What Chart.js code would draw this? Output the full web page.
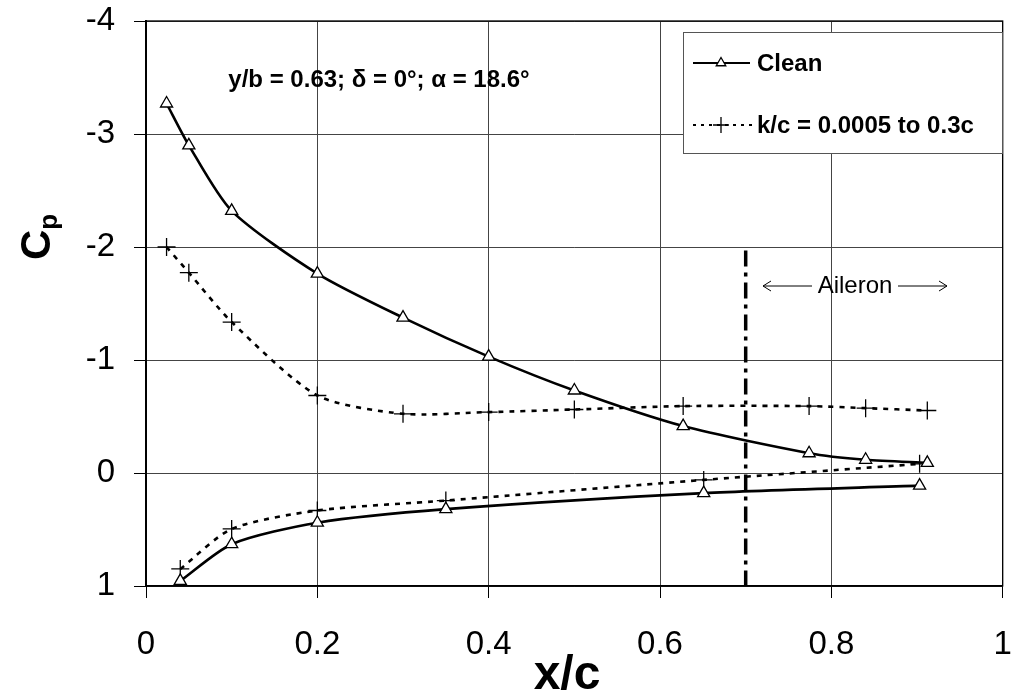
<!DOCTYPE html>
<html>
<head>
<meta charset="utf-8">
<script src="https://cdn.jsdelivr.net/npm/chart.js@4/dist/chart.umd.min.js"></script>
<style>
html,body{margin:0;padding:0;background:#fff;}
#wrap{width:1013px;height:696px;}
</style>
</head>
<body>
<div id="wrap"><canvas id="c" width="1013" height="696"></canvas></div>
<script>
// ---- data ----
const cleanUpperX = [0.024, 0.05, 0.10, 0.20, 0.30, 0.40, 0.50, 0.627, 0.774, 0.84, 0.912];
const cleanUpperCp = [-3.27, -2.90, -2.32, -1.765, -1.375, -1.03, -0.73, -0.415, -0.175, -0.117, -0.09];
const cleanLowerX = [0.04, 0.10, 0.20, 0.35, 0.651, 0.903];
const cleanLowerCp = [0.955, 0.63, 0.44, 0.32, 0.178, 0.112];
const roughUpperX = [0.024, 0.05, 0.10, 0.20, 0.30, 0.40, 0.50, 0.627, 0.774, 0.84, 0.912];
const roughUpperCp = [-2.00, -1.773, -1.336, -0.686, -0.524, -0.539, -0.562, -0.592, -0.592, -0.574, -0.553];
const roughLowerX = [0.04, 0.10, 0.20, 0.35, 0.651, 0.903];
const roughLowerCp = [0.849, 0.495, 0.332, 0.244, 0.061, -0.081];
const aileronX = [0.7, 0.7];
const aileronCp = [-1.97, 1.0];
const xTickLabels = ['0', '0.2', '0.4', '0.6', '0.8', '1'];
const yTickLabels = ['-4', '-3', '-2', '-1', '0', '1'];
const seriesNames = ['Clean', 'k/c = 0.0005 to 0.3c'];
const annotationText = 'y/b = 0.63; \u03B4 = 0\u00B0; \u03B1 = 18.6\u00B0';
const aileronLabel = 'Aileron';
const xTitle = 'x/c';
const yTitleMain = 'C';
const yTitleSub = 'p';

const pts = (xs, ys) => xs.map((x, i) => ({x: x, y: ys[i]}));
const FONT = '"Liberation Sans", Arial, sans-serif';

const cleanStyle = {
  borderColor: '#000', borderWidth: 2.6, pointStyle: 'triangle', pointRadius: 7,
  pointBackgroundColor: '#fff', pointBorderColor: '#000', pointBorderWidth: 1.3,
  tension: 0.25, fill: false, showLine: true
};
const roughStyle = {
  borderColor: '#000', borderWidth: 2.6, borderDash: [5, 6], pointStyle: 'cross', pointRadius: 9,
  pointBackgroundColor: '#000', pointBorderColor: '#000', pointBorderWidth: 1.3,
  tension: 0.25, fill: false, showLine: true
};

const decor = {
  id: 'decor',
  beforeDatasetsDraw(chart) {
    const {ctx, chartArea: a} = chart;
    ctx.save();
    ctx.strokeStyle = '#000';
    ctx.lineWidth = 1.3;
    ctx.strokeRect(a.left, a.top, a.right - a.left, a.bottom - a.top);
    ctx.restore();
  },
  afterDraw(chart) {
    const {ctx} = chart;
    ctx.save();
    ctx.fillStyle = '#000';
    ctx.strokeStyle = '#000';
    // annotation
    ctx.font = 'bold 24px ' + FONT;
    ctx.textAlign = 'center';
    ctx.textBaseline = 'middle';
    ctx.fillText(annotationText, 379, 80);

    // Aileron label with arrows
    const ay = 286;
    ctx.font = '24px ' + FONT;
    ctx.textAlign = 'center';
    ctx.fillText(aileronLabel, 855, ay);
    ctx.lineWidth = 1;
    ctx.beginPath();
    ctx.moveTo(763, ay); ctx.lineTo(812, ay);
    ctx.moveTo(898, ay); ctx.lineTo(947, ay);
    ctx.moveTo(771, ay - 5); ctx.lineTo(763, ay); ctx.lineTo(771, ay + 5);
    ctx.moveTo(939, ay - 5); ctx.lineTo(947, ay); ctx.lineTo(939, ay + 5);
    ctx.stroke();

    // legend
    ctx.fillStyle = '#fff';
    ctx.fillRect(683, 32, 319, 121);
    ctx.strokeStyle = '#555';
    ctx.lineWidth = 1;
    ctx.strokeRect(683.5, 32.5, 319, 121);
    ctx.strokeStyle = '#000';
    ctx.fillStyle = '#000';
    // item 1
    let ly = 63;
    ctx.lineWidth = 2;
    ctx.setLineDash([]);
    ctx.beginPath(); ctx.moveTo(693, ly); ctx.lineTo(750, ly); ctx.stroke();
    ctx.lineWidth = 1.3;
    ctx.fillStyle = '#fff';
    Chart.helpers.drawPoint(ctx, {pointStyle: 'triangle', radius: 5.5, borderWidth: 1.3}, 721, ly);
    ctx.fillStyle = '#000';
    ctx.font = 'bold 24px ' + FONT;
    ctx.textAlign = 'left';
    ctx.textBaseline = 'middle';
    ctx.fillText(seriesNames[0], 757, ly + 1);
    // item 2
    ly = 125;
    ctx.lineWidth = 2;
    ctx.setLineDash([3, 5]);
    ctx.beginPath(); ctx.moveTo(693, ly); ctx.lineTo(752, ly); ctx.stroke();
    ctx.setLineDash([]);
    ctx.lineWidth = 1.3;
    Chart.helpers.drawPoint(ctx, {pointStyle: 'cross', radius: 8, borderWidth: 1.3}, 721, ly);
    ctx.fillText(seriesNames[1], 757, ly + 1);

    // axis titles
    ctx.font = 'bold 48px ' + FONT;
    ctx.textAlign = 'center';
    ctx.textBaseline = 'middle';
    ctx.fillText(xTitle, 567, 676);

    ctx.translate(35, 237);
    ctx.rotate(-Math.PI / 2);
    ctx.font = 'bold 42px ' + FONT;
    const wMain = ctx.measureText(yTitleMain).width;
    ctx.font = 'bold 26px ' + FONT;
    const wSub = ctx.measureText(yTitleSub).width;
    const total = wMain + wSub;
    ctx.textAlign = 'left';
    ctx.textBaseline = 'alphabetic';
    ctx.font = 'bold 42px ' + FONT;
    ctx.fillText(yTitleMain, -total / 2, 15);
    ctx.font = 'bold 26px ' + FONT;
    ctx.fillText(yTitleSub, -total / 2 + wMain, 22);
    ctx.restore();
  }
};

new Chart(document.getElementById('c'), {
  type: 'scatter',
  data: {
    datasets: [
      Object.assign({label: seriesNames[0], data: pts(cleanUpperX, cleanUpperCp)}, cleanStyle),
      Object.assign({label: seriesNames[0] + ' lower', data: pts(cleanLowerX, cleanLowerCp)}, cleanStyle),
      Object.assign({label: seriesNames[1], data: pts(roughUpperX, roughUpperCp)}, roughStyle),
      Object.assign({label: seriesNames[1] + ' lower', data: pts(roughLowerX, roughLowerCp)}, roughStyle),
      {label: 'aileron', data: pts(aileronX, aileronCp), showLine: true, borderColor: '#000',
       borderWidth: 3.5, borderDash: [16, 6, 4, 6], pointRadius: 0, tension: 0}
    ]
  },
  options: {
    responsive: false,
    devicePixelRatio: 1,
    animation: false,
    layout: {padding: {top: 21, right: 9, left: 0, bottom: 0}},
    plugins: {legend: {display: false}, tooltip: {enabled: false}, title: {display: false}},
    scales: {
      x: {
        type: 'linear', min: 0, max: 1,
        afterFit(s) { s.height = 110; s.paddingLeft = 0; s.paddingRight = 0; },
        afterBuildTicks(s) { s.ticks = xTickLabels.map(t => ({value: parseFloat(t)})); },
        ticks: {
          callback: (v, i) => xTickLabels[i],
          font: {family: FONT, size: 33}, color: '#000', padding: 27, maxRotation: 0, autoSkip: false
        },
        grid: {color: '#444', lineWidth: 1, tickLength: 12, tickColor: '#000', tickWidth: 1},
        border: {color: '#000', width: 1.5}
      },
      y: {
        type: 'linear', min: -4, max: 1, reverse: true,
        afterFit(s) { s.width = 146; s.paddingTop = 0; s.paddingBottom = 0; },
        afterBuildTicks(s) { s.ticks = yTickLabels.map(t => ({value: parseFloat(t)})); },
        ticks: {
          callback: (v, i) => yTickLabels[i],
          font: {family: FONT, size: 33}, color: '#000', padding: 19, autoSkip: false
        },
        grid: {color: '#444', lineWidth: 1, tickLength: 12, tickColor: '#000', tickWidth: 1},
        border: {color: '#000', width: 2}
      }
    }
  },
  plugins: [decor]
});
</script>
</body>
</html>
